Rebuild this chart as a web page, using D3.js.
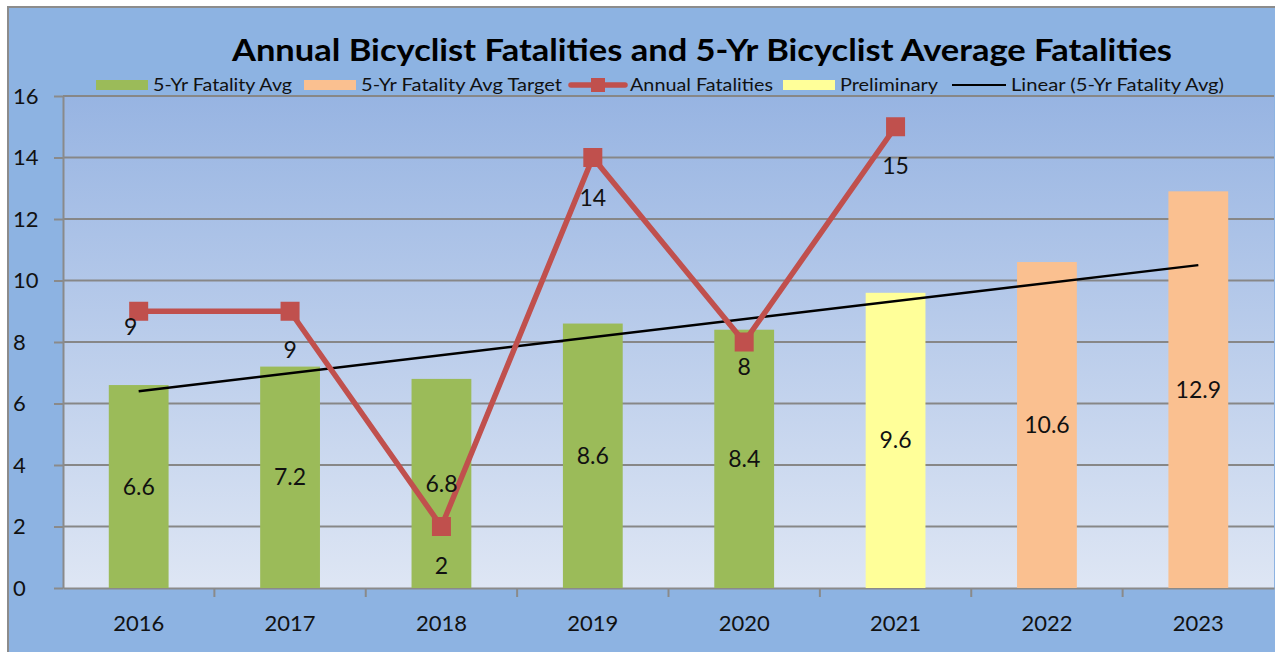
<!DOCTYPE html>
<html>
<head>
<meta charset="utf-8">
<script src="https://cdn.jsdelivr.net/npm/d3@7"></script>
<style>
  body { margin: 0; background: #fff; }
  svg { display: block; font-family: Lato, "Open Sans", sans-serif; }
</style>
</head>
<body>
<div class="visualization"></div>
<script>
const years = ["2016", "2017", "2018", "2019", "2020", "2021", "2022", "2023"];
const avgValues = [6.6, 7.2, 6.8, 8.6, 8.4, null, null, null];
const prelimValues = [null, null, null, null, null, 9.6, null, null];
const targetValues = [null, null, null, null, null, null, 10.6, 12.9];
const annualValues = [9, 9, 2, 14, 8, 15];
const trendEnds = [6.4, 10.5]; // linear trend at 2016 and 2023
const yTicks = [0, 2, 4, 6, 8, 10, 12, 14, 16];
// label nudges for annual fatality labels (dx, dy from point)
const annualLabelShift = [[-8, 16], [0, 39], [0, 39], [0, 40], [0, 25], [0, 39]];

const W = 1275, H = 652;
const margin = { top: 96, right: 1, bottom: 64, left: 63 };

const svg = d3.select(".visualization")
    .append("svg")
    .attr("width", W)
    .attr("height", H);

const defs = svg.append("defs");
const grad = defs.append("linearGradient")
    .attr("id", "plotBg")
    .attr("x1", 0).attr("y1", 0).attr("x2", 0).attr("y2", 1);
grad.append("stop").attr("offset", "0%").attr("stop-color", "#97b4e2");
grad.append("stop").attr("offset", "100%").attr("stop-color", "#dee6f4");

// outer chart area
svg.append("rect")
    .attr("x", 8).attr("y", 7)
    .attr("width", W).attr("height", H)
    .attr("fill", "#8db3e2")
    .attr("stroke", "#8c8c8c")
    .attr("stroke-width", 2);

const x = d3.scaleBand()
    .domain(years)
    .range([margin.left, W - margin.right]);

const y = d3.scaleLinear()
    .domain([0, 16])
    .range([H - margin.bottom, margin.top]);

// plot area
svg.append("rect")
    .attr("x", margin.left)
    .attr("y", margin.top)
    .attr("width", W - margin.right - margin.left)
    .attr("height", y(0) - margin.top)
    .attr("fill", "url(#plotBg)");

// gridlines
svg.append("g")
    .selectAll("line")
    .data(yTicks.filter(d => d > 0))
    .join("line")
    .attr("x1", margin.left)
    .attr("x2", W - margin.right)
    .attr("y1", d => y(d))
    .attr("y2", d => y(d))
    .attr("stroke", "#878787")
    .attr("stroke-width", 2.2);

// y axis
const yAxis = svg.append("g")
    .attr("transform", `translate(${margin.left},0)`)
    .call(d3.axisLeft(y).tickValues(yTicks).tickSize(9).tickSizeOuter(0).tickFormat(d3.format("d")));
yAxis.select(".domain").attr("stroke", "#8a8a8a").attr("stroke-width", 2);
yAxis.selectAll(".tick line").attr("stroke", "#8a8a8a").attr("stroke-width", 2);
yAxis.selectAll(".tick text")
    .attr("x", -50)
    .attr("text-anchor", "start")
    .attr("font-size", 22)
    .attr("font-family", "Lato, sans-serif")
    .attr("fill", "#111");

// x axis
const xAxis = svg.append("g")
    .attr("transform", `translate(0,${y(0)})`)
    .call(d3.axisBottom(x).tickSize(0).tickSizeOuter(0));
xAxis.select(".domain").attr("stroke", "#8a8a8a").attr("stroke-width", 2);
xAxis.selectAll(".tick text")
    .attr("y", 27)
    .attr("dy", "0.71em")
    .attr("font-size", 22)
    .attr("font-family", "Lato, sans-serif")
    .attr("fill", "#111");
// category separators
svg.append("g")
    .selectAll("line")
    .data(years.slice(0, -1))
    .join("line")
    .attr("x1", d => x(d) + x.bandwidth())
    .attr("x2", d => x(d) + x.bandwidth())
    .attr("y1", y(0))
    .attr("y2", y(0) + 9)
    .attr("stroke", "#8a8a8a")
    .attr("stroke-width", 2);

const barW = x.bandwidth() * 0.395;
const cx = d => x(d) + x.bandwidth() / 2;

function drawBars(values, color) {
    const data = years.map((yr, i) => ({ yr, v: values[i] })).filter(d => d.v != null);
    svg.append("g")
        .selectAll("rect")
        .data(data)
        .join("rect")
        .attr("x", d => cx(d.yr) - barW / 2)
        .attr("width", barW)
        .attr("y", d => y(d.v))
        .attr("height", d => y(0) - y(d.v))
        .attr("fill", color);
    return data;
}

const barData = [
    ...drawBars(avgValues, "#9bbb59"),
    ...drawBars(prelimValues, "#ffff99"),
    ...drawBars(targetValues, "#fac090")
];

// trend line
svg.append("line")
    .attr("x1", cx(years[0]))
    .attr("x2", cx(years[years.length - 1]))
    .attr("y1", y(trendEnds[0]))
    .attr("y2", y(trendEnds[1]))
    .attr("stroke", "#000")
    .attr("stroke-width", 2.5);

// annual fatalities line
const annual = annualValues.map((v, i) => ({ yr: years[i], v }));
svg.append("path")
    .datum(annual)
    .attr("fill", "none")
    .attr("stroke", "#c0504d")
    .attr("stroke-width", 5.5)
    .attr("stroke-linejoin", "round")
    .attr("d", d3.line().x(d => cx(d.yr)).y(d => y(d.v)));

svg.append("g")
    .selectAll("rect")
    .data(annual)
    .join("rect")
    .attr("x", d => cx(d.yr) - 9.5)
    .attr("y", d => y(d.v) - 9.5)
    .attr("width", 19)
    .attr("height", 19)
    .attr("fill", "#c0504d");

// bar labels
svg.append("g")
    .selectAll("text")
    .data(barData)
    .join("text")
    .attr("x", d => cx(d.yr))
    .attr("y", d => y(d.v / 2))
    .attr("dy", "0.35em")
    .attr("text-anchor", "middle")
    .attr("font-size", 23)
    .attr("fill", "#111")
    .text(d => d.v);

// annual labels
svg.append("g")
    .selectAll("text")
    .data(annual)
    .join("text")
    .attr("x", (d, i) => cx(d.yr) + annualLabelShift[i][0])
    .attr("y", (d, i) => y(d.v) + annualLabelShift[i][1])
    .attr("dy", "0.35em")
    .attr("text-anchor", "middle")
    .attr("font-size", 23)
    .attr("fill", "#111")
    .text(d => d.v);

// title
svg.append("text")
    .attr("x", 702)
    .attr("y", 61)
    .attr("text-anchor", "middle")
    .attr("font-size", 30)
    .attr("font-weight", "bold")
    .attr("textLength", 940)
    .attr("lengthAdjust", "spacingAndGlyphs")
    .attr("fill", "#000")
    .text("Annual Bicyclist Fatalities and 5-Yr Bicyclist Average Fatalities");

// legend
const legendItems = [
    { label: "5-Yr Fatality Avg", kind: "bar", color: "#9bbb59", x: 96, w: 139 },
    { label: "5-Yr Fatality Avg Target", kind: "bar", color: "#fac090", x: 304, w: 201 },
    { label: "Annual Fatalities", kind: "marker", color: "#c0504d", x: 571, w: 143 },
    { label: "Preliminary", kind: "bar", color: "#ffff99", x: 783, w: 98 },
    { label: "Linear (5-Yr Fatality Avg)", kind: "line", color: "#000", x: 952, w: 213 }
];
const legend = svg.append("g");
const ly = 85;
legendItems.forEach(it => {
    const g = legend.append("g");
    const sw = it.kind === "bar" ? 52 : 54;
    if (it.kind === "bar") {
        g.append("rect").attr("x", it.x).attr("y", ly - 5).attr("width", sw).attr("height", 10).attr("fill", it.color);
    } else if (it.kind === "marker") {
        g.append("line").attr("x1", it.x).attr("x2", it.x + sw).attr("y1", ly).attr("y2", ly)
            .attr("stroke", it.color).attr("stroke-width", 5.5).attr("stroke-linecap", "round");
        g.append("rect").attr("x", it.x + sw / 2 - 7).attr("y", ly - 7).attr("width", 14).attr("height", 14).attr("fill", it.color);
    } else {
        g.append("line").attr("x1", it.x).attr("x2", it.x + sw).attr("y1", ly).attr("y2", ly)
            .attr("stroke", it.color).attr("stroke-width", 2);
    }
    g.append("text")
        .attr("x", it.x + sw + 5)
        .attr("y", ly)
        .attr("dy", "0.35em")
        .attr("font-size", 17.5)
        .attr("textLength", it.w)
        .attr("lengthAdjust", "spacingAndGlyphs")
        .attr("fill", "#111")
        .text(it.label);
});
</script>
</body>
</html>
